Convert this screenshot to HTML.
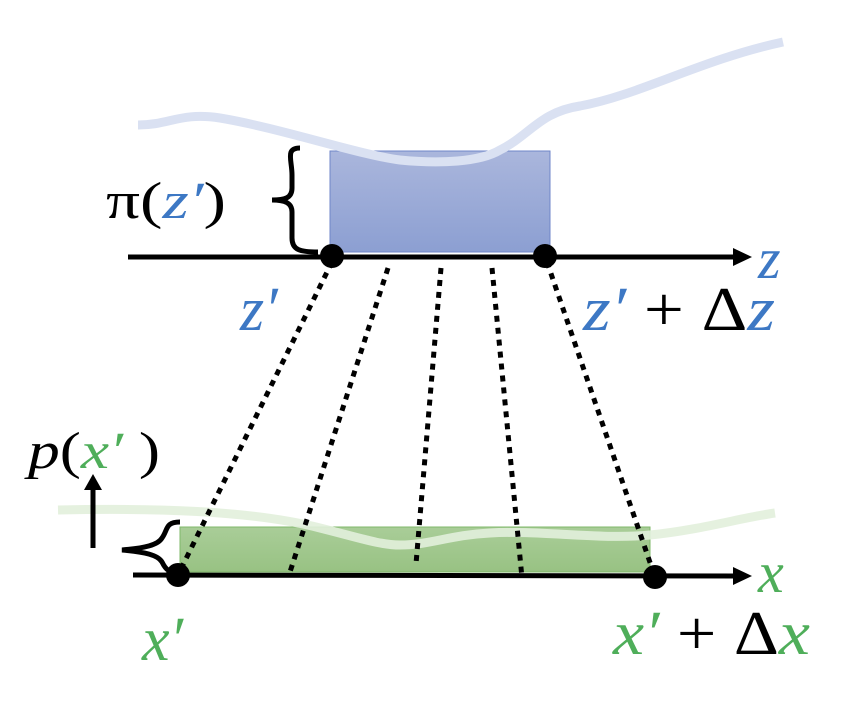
<!DOCTYPE html>
<html><head><style>
body{margin:0;background:#fff;width:864px;height:706px;overflow:hidden}
svg text{font-family:"Liberation Serif",serif;font-style:italic}
</style></head><body>
<svg width="864" height="706" viewBox="0 0 864 706">
<defs>
<linearGradient id="gb" x1="0" y1="0" x2="0" y2="1"><stop offset="0" stop-color="#aab6dc"/><stop offset="1" stop-color="#8c9fd2"/></linearGradient>
<linearGradient id="gg" x1="0" y1="0" x2="0" y2="1"><stop offset="0" stop-color="#a9cd98"/><stop offset="1" stop-color="#98c283"/></linearGradient>
</defs>
<!-- top -->
<rect x="330" y="151" width="220" height="101" fill="url(#gb)" stroke="#6f86c8" stroke-width="1"/>
<path d="M138,125 C170,125 180,112 220,118 C280,128 360,155 400,160 C440,164 480,162 500,150 C530,135 540,112 580,106 C640,95 700,60 783,42" fill="none" stroke="#dae1f2" stroke-width="9"/>
<path d="M300,148 C285,148 292,160 292,175 L292,188 C292,198 285,200 272,200 C285,200 292,203 292,212 L292,238 C292,250 300,252 318,252" fill="none" stroke="#000" stroke-width="5"/>
<!-- bottom rect -->
<rect x="180" y="527" width="470" height="45" fill="url(#gg)" stroke="#7fb86a" stroke-width="1"/>
<path d="M58,510 C150,508 250,510 320,528 C360,538 380,545 400,545 C430,545 450,535 490,533 C540,530 600,540 650,535 C700,530 740,518 775,513" fill="none" stroke="#e2efdc" stroke-width="9" opacity="0.9"/>
<line x1="128" y1="257" x2="735" y2="257" stroke="#000" stroke-width="5"/>
<polygon points="733,248 752,257 733,266" fill="#000"/>
<!-- dotted -->
<g stroke="#000" stroke-width="5" stroke-dasharray="6 6" fill="none">
<line x1="332" y1="262" x2="178" y2="575"/>
<line x1="388" y1="268" x2="290" y2="572"/>
<line x1="441" y1="268" x2="416" y2="564"/>
<line x1="492" y1="268" x2="522" y2="578"/>
<line x1="547" y1="262" x2="655" y2="577"/>
</g>
<circle cx="332" cy="256" r="12" fill="#000"/>
<circle cx="545" cy="256" r="12" fill="#000"/>
<path d="M180,522 C165,522 168,530 162,538 C158,545 145,548 122,550 C145,552 158,555 162,562 C166,570 168,572 180,572" fill="none" stroke="#000" stroke-width="5"/>
<line x1="93" y1="548" x2="93" y2="488" stroke="#000" stroke-width="5"/>
<polygon points="84,490 93,474 102,490" fill="#000"/>
<line x1="133" y1="575" x2="738" y2="576" stroke="#000" stroke-width="5"/>
<polygon points="733,567 752,576 733,585" fill="#000"/>
<circle cx="178" cy="575" r="12" fill="#000"/>
<circle cx="655" cy="577" r="12" fill="#000"/>
<!-- labels -->
<text x="106" y="218" font-size="52" fill="#000" style="font-style:normal" textLength="120" lengthAdjust="spacingAndGlyphs">π(<tspan fill="#3d78c4" font-style="italic">z′</tspan>)</text>
<text x="758" y="278" font-size="58" fill="#3d78c4">z</text>
<text x="240" y="330" font-size="62" fill="#3d78c4">z′</text>
<text x="583" y="330" font-size="62" fill="#3d78c4" textLength="192" lengthAdjust="spacingAndGlyphs">z′ <tspan fill="#000" font-style="normal">+ Δ</tspan>z</text>
<text x="28" y="468" font-size="52" fill="#000" textLength="132" lengthAdjust="spacingAndGlyphs">p<tspan font-style="normal">(</tspan><tspan fill="#4fae5a">x′</tspan><tspan font-style="normal"> )</tspan></text>
<text x="758" y="592" font-size="58" fill="#4fae5a">x</text>
<text x="142" y="660" font-size="62" fill="#4fae5a">x′</text>
<text x="613" y="654" font-size="62" fill="#4fae5a" textLength="197" lengthAdjust="spacingAndGlyphs">x′ <tspan fill="#000" font-style="normal">+ Δ</tspan>x</text>
</svg>
</body></html>
